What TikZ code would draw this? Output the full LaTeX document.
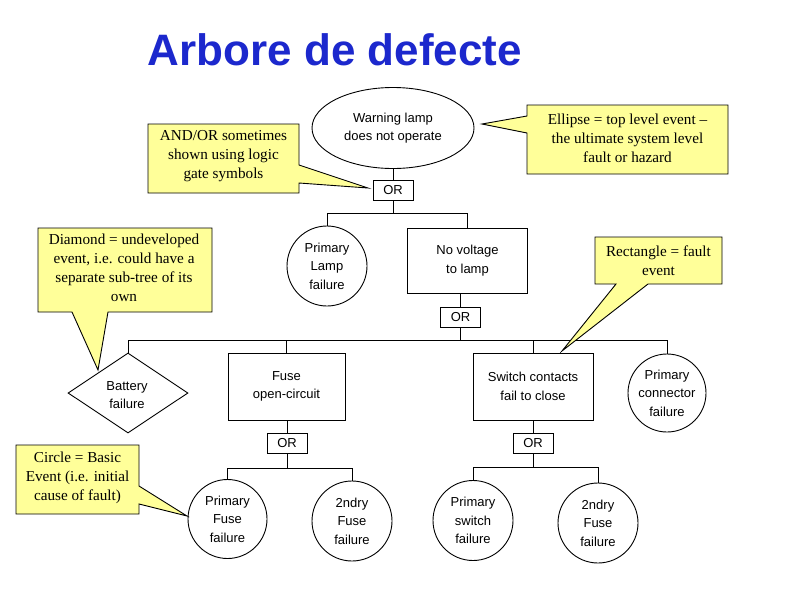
\documentclass[tikz,border=0pt]{standalone}
\usepackage{fontspec}
\setmainfont{Liberation Sans}
\newfontfamily\callfont{Liberation Serif}
\usetikzlibrary{shapes.geometric}
\definecolor{titleblue}{RGB}{28,40,205}
\definecolor{callyellow}{RGB}{255,255,153}
\begin{document}
\begin{tikzpicture}[x=1pt,y=-1pt,line width=0.9pt,
  every node/.style={font=\fontsize{13}{18.5}\selectfont, align=center, inner sep=0pt},
  evtbox/.style={draw, rectangle, minimum width=120pt, minimum height=66pt},
  gatebox/.style={draw, rectangle, minimum width=40pt, minimum height=20pt},
  basicevt/.style={draw, circle, minimum size=80pt},
  undevevt/.style={draw, diamond, shape aspect=1.5, minimum width=120pt, minimum height=80pt},
  topevt/.style={draw, ellipse, minimum width=162pt, minimum height=81pt},
  calloutshape/.style={fill=callyellow, draw=black, line width=0.9pt, line join=miter},
  calltext/.style={font=\callfont\fontsize{15.2}{19}\selectfont}]
\useasboundingbox (0,0) rectangle (800,600);
\fill[white] (0,0) rectangle (800,600);

% title
\node[font=\bfseries\fontsize{44}{44}\selectfont, text=titleblue, anchor=base] (title) at (335,65.5) {Arbore de defecte};

% tree nodes
\node[topevt] (top) at (393,128) {Warning lamp\\does not operate};
\node[gatebox] (or1) at (393,190.5) {OR};
\node[basicevt] (lamp) at (327,266) {Primary\\Lamp\\failure};
\node[evtbox, minimum width=120pt, minimum height=65pt] (nv) at (467.5,260.5) {No voltage\\to lamp};
\node[gatebox] (or2) at (460.5,317) {OR};
\node[undevevt] (bat) at (128,393) {};
\node (battxt) at (127,395) {Battery\\failure};
\node[evtbox, minimum width=117pt, minimum height=67pt] (fuse) at (286.5,386.5) {Fuse\\open-circuit};
\node[evtbox, minimum width=120pt, minimum height=67pt] (sw) at (533,386.5) {Switch contacts\\fail to close};
\node[basicevt, minimum size=78pt] (conn) at (667,393) {Primary\\connector\\failure};
\node[gatebox] (or3) at (287,443) {OR};
\node[gatebox] (or4) at (533,443) {OR};
\node[basicevt, minimum size=79pt] (pf) at (227.5,519) {Primary\\Fuse\\failure};
\node[basicevt] (sf) at (352,521) {2ndry\\Fuse\\failure};
\node[basicevt] (ps) at (473,520.5) {Primary\\switch\\failure};
\node[basicevt] (sf2) at (598,523) {2ndry\\Fuse\\failure};

% bar levels
\coordinate (b1) at (0,213);
\coordinate (b2) at (0,340);
\coordinate (b3) at (0,468);
\coordinate (b4) at (0,467);

% connectors
\draw (top.south) -- (or1.north);
\draw (or1.south) -- (or1.south |- b1);
\draw (lamp.north) -- (lamp.north |- b1) -| (nv.north);
\draw (nv.south -| or2.north) -- (or2.north);
\draw (or2.south) -- (or2.south |- b2);
\draw (bat.north) -- (bat.north |- b2) -| (conn.north);
\draw (fuse.north) -- (fuse.north |- b2);
\draw (sw.north) -- (sw.north |- b2);
\draw (fuse.south -| or3.north) -- (or3.north);
\draw (or3.south) -- (or3.south |- b3);
\draw (pf.north) -- (pf.north |- b3) -| (sf.north);
\draw (sw.south -| or4.north) -- (or4.north);
\draw (or4.south) -- (or4.south |- b4);
\draw (ps.north) -- (ps.north |- b4) -| (sf2.north);

% callouts
\coordinate (t1) at (368,188);
\draw[calloutshape] (148,124) -- (299,124) -- (299,165) -- (t1) -- (299,183) -- (299,193) -- (148,193) -- cycle;
\node[calltext] (c1) at (223.5,156) {AND/OR sometimes\\shown using logic\\gate symbols};

\coordinate (t2) at (482,124);
\draw[calloutshape] (527,105) -- (728,105) -- (728,174) -- (527,174) -- (527,133) -- (t2) -- (527,116) -- cycle;
\node[calltext] (c2) at (627.5,138.5) {Ellipse = top level event \textendash\\the ultimate system level\\fault or hazard};

\coordinate (t3) at (98,370);
\draw[calloutshape] (38,228) -- (212,228) -- (212,312) -- (108,312) -- (t3) -- (72,312) -- (38,312) -- cycle;
\node[calltext] (c3) at (124,267.5) {Diamond = undeveloped\\event, i.e. could have a\\separate sub-tree of its\\own};

\coordinate (t4) at (562,351);
\draw[calloutshape] (595,237) -- (722,237) -- (722,284) -- (648,284) -- (t4) -- (616,284) -- (595,284) -- cycle;
\node[calltext] (c4) at (658.5,261) {Rectangle = fault\\event};

\coordinate (t5) at (187,516);
\draw[calloutshape] (16,445) -- (139,445) -- (139,486) -- (t5) -- (139,504) -- (139,514) -- (16,514) -- cycle;
\node[calltext] (c5) at (77.5,478) {Circle = Basic\\Event (i.e. initial\\cause of fault)};
\end{tikzpicture}
\end{document}
